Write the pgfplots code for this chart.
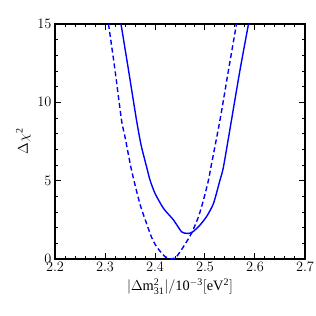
\documentclass[border=0pt]{standalone}
\usepackage{fontspec}
\setmainfont{Liberation Serif}
\usepackage{pgfplots}
\pgfplotsset{compat=1.18}
\begin{document}
\begin{tikzpicture}
\path[use as bounding box] (-55bp,-57bp) rectangle (261bp,259bp);
\begin{axis}[
  scale only axis, width=250bp, height=235bp,
  xmin=2.2, xmax=2.7, ymin=0, ymax=15,
  xtick={2.2,2.3,2.4,2.5,2.6,2.7},
  ytick={0,5,10,15},
  minor x tick num=4, minor y tick num=4,
  major tick length=6bp,
  tick style={black, line width=1pt},
  axis line style={line width=1.1pt},
  tick label style={font=\Large},
  xlabel style={font=\Large},
  ylabel style={font=\Large},
  xlabel={$|\Delta\mathrm{m}^{\mathrm{2}}_{\mathrm{31}}|/\mathrm{10}^{-\mathrm{3}}[\mathrm{eV}^{\mathrm{2}}]$},
  ylabel={$\Delta\chi^{\mathrm{2}}$},
]
\addplot[blue, line width=1.4pt, smooth, tension=0.4] coordinates {
(2.332,15) (2.347,12.06) (2.363,8.87) (2.372,7.3) (2.383,5.9) (2.39,5.04)
(2.40,4.19) (2.417,3.23) (2.437,2.49) (2.453,1.74) (2.463,1.64) (2.473,1.68)
(2.487,2.06) (2.503,2.7) (2.517,3.55) (2.53,5.04) (2.537,5.89) (2.553,8.87)
(2.57,12.06) (2.587,15)
};
\addplot[blue, line width=1.4pt, dash pattern=on 5pt off 3pt, smooth, tension=0.4] coordinates {
(2.307,15) (2.32,12.06) (2.333,8.87) (2.34,7.8) (2.353,5.68) (2.37,3.5)
(2.383,2.28) (2.393,1.4) (2.403,0.79) (2.42,0.15) (2.433,0.0) (2.443,0.15)
(2.457,0.79) (2.473,1.64) (2.487,2.7) (2.497,3.77) (2.507,5.04) (2.512,5.89)
(2.53,8.87) (2.547,12.06) (2.563,15)
};
\end{axis}
\end{tikzpicture}
\end{document}
